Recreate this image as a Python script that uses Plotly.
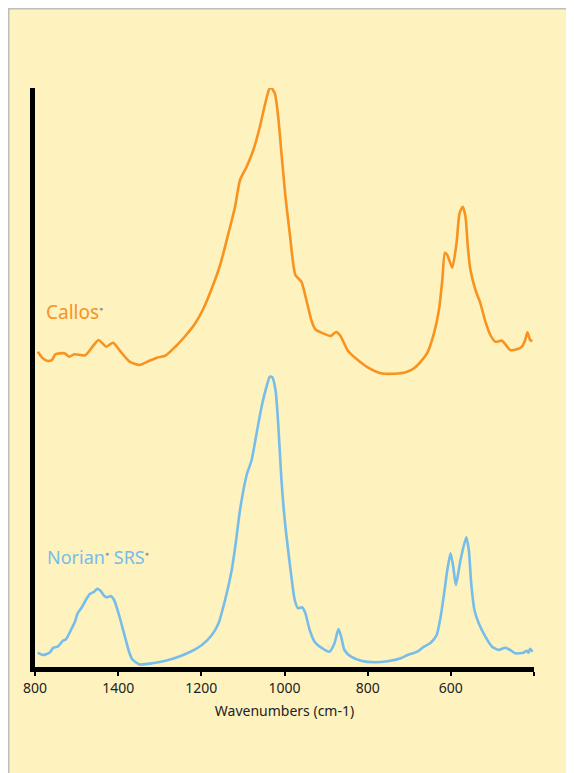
import plotly.graph_objects as go

# Callos spectrum (wavenumber cm-1, offset absorbance, arbitrary units)
callos_wn = [1593.3, 1581.3, 1569.4, 1559.1, 1551.0, 1529.4, 1517.5, 1505.5, 1479.2, 1461.7,
             1447.4, 1437.8, 1428.3, 1412.2, 1394.0, 1372.5, 1348.6, 1326.1, 1306.3, 1286.4,
             1262.5, 1238.6, 1214.6, 1194.6, 1174.7, 1154.8, 1134.8, 1118.9, 1107.0, 1091.0,
             1074.9, 1059.2, 1047.2, 1037.6, 1032.9, 1023.3, 1015.2, 1007.3, 997.7, 987.4,
             973.8, 959.4, 947.4, 935.5, 925.9, 907.5, 889.3, 875.7, 865.4, 847.7,
             823.8, 799.9, 768.1, 736.2, 708.3, 688.4, 672.4, 656.4, 640.6, 628.6,
             620.5, 614.3, 608.5, 596.6, 586.3, 579.1, 571.2, 564.7, 559.2, 552.8,
             540.8, 528.9, 516.9, 505.0, 493.0, 476.9, 457.1, 441.1, 429.1, 421.2,
             415.7, 409.3, 403.8]
callos_abs = [3.153, 3.087, 3.060, 3.070, 3.127, 3.137, 3.103, 3.127, 3.117, 3.203,
              3.270, 3.237, 3.203, 3.243, 3.153, 3.053, 3.020, 3.060, 3.093, 3.113,
              3.203, 3.310, 3.437, 3.587, 3.787, 4.020, 4.337, 4.603, 4.870, 5.003,
              5.170, 5.403, 5.620, 5.770, 5.797, 5.737, 5.503, 5.137, 4.703, 4.337,
              3.920, 3.853, 3.670, 3.470, 3.377, 3.337, 3.310, 3.350, 3.310, 3.163,
              3.070, 2.997, 2.937, 2.933, 2.947, 2.987, 3.053, 3.143, 3.337, 3.570,
              3.870, 4.143, 4.120, 3.993, 4.237, 4.537, 4.603, 4.503, 4.203, 3.970,
              3.770, 3.637, 3.453, 3.320, 3.253, 3.263, 3.170, 3.177, 3.203, 3.270,
              3.347, 3.270, 3.260]

# Norian SRS spectrum
norian_wn = [1593.3, 1581.3, 1565.3, 1555.7, 1545.5, 1533.5, 1525.6, 1513.6, 1503.1, 1497.6,
             1487.3, 1477.8, 1468.2, 1457.7, 1449.8, 1441.9, 1433.8, 1425.9, 1417.9, 1409.8,
             1397.9, 1385.9, 1373.9, 1366.1, 1350.0, 1318.2, 1286.4, 1254.4, 1222.5, 1198.6,
             1174.7, 1158.6, 1142.9, 1126.9, 1117.3, 1107.0, 1091.0, 1079.0, 1067.1, 1055.1,
             1043.2, 1035.2, 1029.5, 1021.6, 1015.2, 1007.3, 999.4, 987.4, 975.4, 967.3,
             957.7, 949.8, 939.5, 927.6, 911.6, 891.7, 879.8, 870.2, 863.7, 855.8,
             839.8, 815.9, 784.1, 752.0, 720.2, 704.2, 680.3, 664.5, 648.4, 634.1,
             624.5, 615.0, 608.5, 600.6, 594.2, 587.9, 576.7, 563.0, 556.8, 551.0,
             543.2, 532.9, 516.9, 500.9, 485.1, 469.1, 457.1, 445.1, 425.3, 417.1,
             413.3, 409.3, 403.8]
norian_abs = [0.143, 0.120, 0.143, 0.193, 0.203, 0.260, 0.277, 0.370, 0.463, 0.537,
              0.597, 0.670, 0.730, 0.753, 0.783, 0.760, 0.713, 0.697, 0.710, 0.670,
              0.520, 0.337, 0.153, 0.077, 0.027, 0.037, 0.063, 0.103, 0.160, 0.220,
              0.320, 0.437, 0.670, 0.970, 1.237, 1.570, 1.920, 2.070, 2.337, 2.603,
              2.803, 2.903, 2.897, 2.770, 2.437, 1.870, 1.470, 1.037, 0.670, 0.587,
              0.597, 0.537, 0.370, 0.253, 0.193, 0.153, 0.237, 0.380, 0.303, 0.170,
              0.103, 0.063, 0.047, 0.057, 0.087, 0.120, 0.153, 0.203, 0.243, 0.320,
              0.503, 0.770, 0.970, 1.137, 1.003, 0.820, 1.070, 1.297, 1.170, 0.837,
              0.570, 0.437, 0.303, 0.203, 0.170, 0.193, 0.170, 0.137, 0.143, 0.163,
              0.143, 0.183, 0.153]

tick_vals = [1600, 1400, 1200, 1000, 800, 600, 400]
tick_text = ["800", "1400", "1200", "1000", "800", "600", " "]

ORANGE = "#F7931E"
BLUE = "#76BDEA"
BG = "#FEF2BF"
FONT = "Noto Sans, Open Sans, sans-serif"

fig = go.Figure()
fig.add_trace(go.Scatter(x=callos_wn, y=callos_abs, mode="lines",
                         line=dict(color=ORANGE, width=2.6, shape="spline", smoothing=0.6),
                         hoverinfo="skip", showlegend=False))
fig.add_trace(go.Scatter(x=norian_wn, y=norian_abs, mode="lines",
                         line=dict(color=BLUE, width=2.6, shape="spline", smoothing=0.6),
                         hoverinfo="skip", showlegend=False))

dot = "<span style='color:#9a9a9a;font-size:7px'>●</span>"
fig.add_annotation(x=1578, y=3.55, xref="x", yref="y", xanchor="left", yanchor="middle",
                   text="Callos<sup>" + dot + "</sup>", showarrow=False,
                   font=dict(family=FONT, size=19, color=ORANGE))
fig.add_annotation(x=1576, y=1.1, xref="x", yref="y", xanchor="left", yanchor="middle",
                   text="Norian<sup>" + dot + "</sup> SRS<sup>" + dot + "</sup>", showarrow=False,
                   font=dict(family=FONT, size=18, color=BLUE))

fig.add_shape(type="rect", xref="paper", yref="paper",
              x0=-0.0526, x1=1.3, y0=-0.4, y1=1.1369,
              fillcolor=BG, line=dict(color="#BDBDBD", width=1.5), layer="below")

fig.update_xaxes(range=[1600, 400], tickvals=tick_vals, ticktext=tick_text,
                 showgrid=False, zeroline=False, showline=True, linecolor="black", linewidth=5,
                 ticks="outside", ticklen=4, tickwidth=1.5, tickcolor="black",
                 tickfont=dict(family=FONT, size=14, color="#222"),
                 title=dict(text="Wavenumbers (cm-1)", font=dict(family=FONT, size=14, color="#222"),
                            standoff=12))
fig.update_yaxes(range=[0, 5.79], showgrid=False, zeroline=False, showline=True,
                 linecolor="black", linewidth=5, showticklabels=False, ticks="")

fig.update_layout(width=566, height=765, margin=dict(l=27, r=40, t=80, b=106, autoexpand=False),
                  paper_bgcolor="white", plot_bgcolor="rgba(0,0,0,0)",
                  font=dict(family=FONT))

fig.write_html("out.html")
